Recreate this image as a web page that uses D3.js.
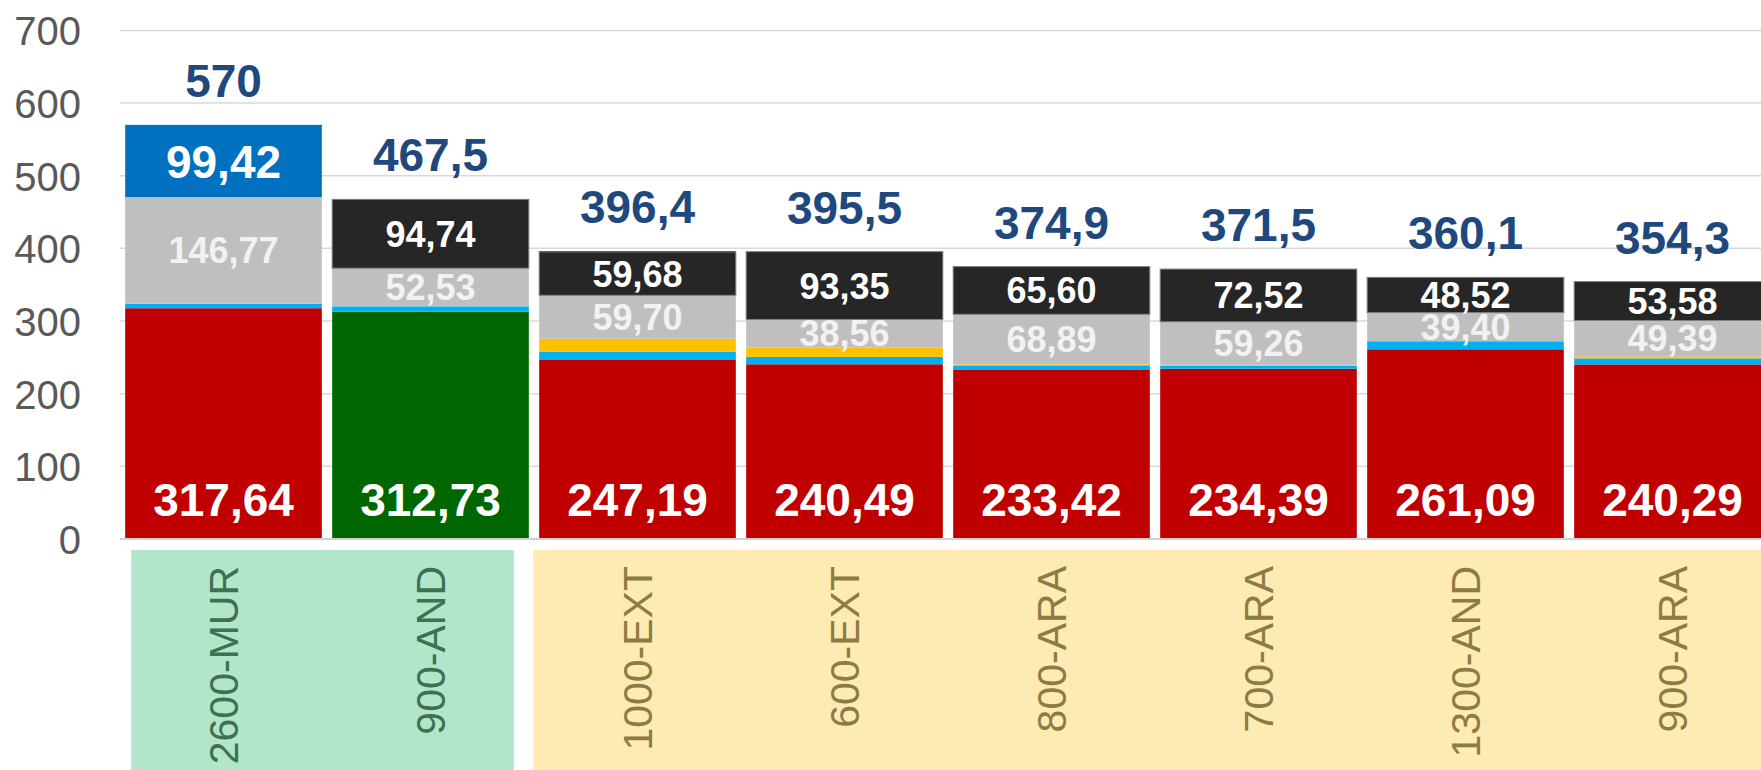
<!DOCTYPE html>
<html>
<head>
<meta charset="utf-8">
<script src="https://cdn.jsdelivr.net/npm/d3@7"></script>
<style>
  html, body { margin: 0; padding: 0; background: #fff; }
  svg { display: block; font-family: "Liberation Sans", Arial, sans-serif; }
</style>
</head>
<body>
<div id="chart"></div>
<script>
// categories (x axis)
const categories = ["2600-MUR", "900-AND", "1000-EXT", "600-EXT", "800-ARA", "700-ARA", "1300-AND", "900-ARA"];

// stacked series, bottom to top
const baseValues      = [317.64, 312.73, 247.19, 240.49, 233.42, 234.39, 261.09, 240.29];
const lightBlueValues = [6.17, 7.5, 10.3, 10.2, 5.5, 4.0, 11.09, 8.3];
const yellowValues    = [0, 0, 18.2, 12.9, 1.49, 1.33, 0, 2.74];
const grayValues      = [146.77, 52.53, 59.70, 38.56, 68.89, 59.26, 39.40, 49.39];
const blackValues     = [0, 94.74, 59.68, 93.35, 65.60, 72.52, 48.52, 53.58];
const darkBlueValues  = [99.42, 0, 1.33, 0, 0, 0, 0, 0];

// y axis ticks
const yTicks = [0, 100, 200, 300, 400, 500, 600, 700];

// groups shown as coloured strips behind the category labels
const groups = [
  { first: "2600-MUR", last: "900-AND" },
  { first: "1000-EXT", last: "900-ARA" }
];

const width = 1761, height = 770;
const fontFamily = '"Liberation Sans", Arial, sans-serif';

const seriesKeys = ["base", "lightBlue", "yellow", "gray", "black", "darkBlue"];
const seriesColors = {
  base: "#c00000", lightBlue: "#00b0f0", yellow: "#ffc000",
  gray: "#bfbfbf", black: "#262626", darkBlue: "#0070c0"
};
const highlightCategory = "900-AND"; // base drawn in green

const table = categories.map((c, i) => ({
  category: c,
  base: baseValues[i],
  lightBlue: lightBlueValues[i],
  yellow: yellowValues[i],
  gray: grayValues[i],
  black: blackValues[i],
  darkBlue: darkBlueValues[i]
}));

const stacked = d3.stack().keys(seriesKeys)(table);

const locale = d3.formatLocale({ decimal: ",", thousands: ".", grouping: [3], currency: ["", "€"] });
const fmt2 = locale.format(".2f");
const fmtTotal = locale.format(".1~f");

const svg = d3.select("#chart")
  .append("svg")
  .attr("width", width)
  .attr("height", height);

const x = d3.scaleBand()
  .domain(categories)
  .range([120, 120 + 207 * categories.length])
  .paddingInner(0.05)
  .paddingOuter(0.025);

const y = d3.scaleLinear()
  .domain([0, 700])
  .range([539, 30.4]);

// category strips
const stripColors = ["#b2e6ca", "#feeab3"];
const stripText = ["#3e7150", "#8d7b44"];
groups.forEach((g, i) => {
  const x0 = i === 0 ? x(g.first) + 6 : x(g.first) - 6;
  const x1 = i === 0 ? x(g.last) + x.bandwidth() - 15 : width;
  svg.append("rect")
    .attr("x", x0)
    .attr("y", 550)
    .attr("width", x1 - x0)
    .attr("height", height - 550)
    .attr("fill", stripColors[i]);
});

// gridlines
svg.append("g")
  .selectAll("line")
  .data(yTicks.filter(d => d > 0))
  .join("line")
  .attr("x1", 120)
  .attr("x2", width)
  .attr("y1", d => y(d))
  .attr("y2", d => y(d))
  .attr("stroke", "#d9d9d9")
  .attr("stroke-width", 1.5);

// y axis labels
const yAxis = d3.axisLeft(y).tickValues(yTicks).tickSize(0).tickPadding(0);
const yAxisG = svg.append("g")
  .attr("transform", "translate(81,0)")
  .call(yAxis);
yAxisG.select(".domain").remove();
yAxisG.selectAll("text")
  .attr("fill", "#595959")
  .style("font-family", fontFamily)
  .style("font-size", "40px")
  .attr("dy", "0.36em");

// bars
const layers = svg.append("g")
  .selectAll("g")
  .data(stacked)
  .join("g");

layers.selectAll("rect")
  .data(d => d.map(p => ({ key: d.key, p })))
  .join("rect")
  .attr("x", d => x(d.p.data.category))
  .attr("width", x.bandwidth())
  .attr("y", d => y(d.p[1]))
  .attr("height", d => Math.max(0, y(d.p[0]) - y(d.p[1])))
  .attr("fill", d => (d.key === "base" && d.p.data.category === highlightCategory) ? "#006600" : seriesColors[d.key])
  .attr("stroke", d => (d.key === "black" && d.p[1] > d.p[0]) ? "#808080" : "none")
  .attr("stroke-width", 1);

// x axis line
svg.append("line")
  .attr("x1", 120)
  .attr("x2", width)
  .attr("y1", y(0))
  .attr("y2", y(0))
  .attr("stroke", "#d0d0d0")
  .attr("stroke-width", 2);

// segment labels
const labelGroup = svg.append("g")
  .attr("font-family", fontFamily)
  .attr("font-weight", "bold")
  .attr("text-anchor", "middle")
  .attr("fill", "#ffffff");

stacked.forEach(layer => {
  layer.forEach(p => {
    const v = p.data[layer.key];
    const cx = x(p.data.category) + x.bandwidth() / 2;
    if (layer.key === "base") {
      labelGroup.append("text")
        .attr("x", cx)
        .attr("y", y(0) - 23)
        .style("font-size", "46px")
        .text(fmt2(v));
    } else if (layer.key === "gray" || layer.key === "black") {
      if (v <= 0) return;
      labelGroup.append("text")
        .attr("x", cx)
        .attr("y", (y(p[0]) + y(p[1])) / 2)
        .attr("dy", "0.36em")
        .attr("fill", layer.key === "gray" ? "#f2f2f2" : "#ffffff")
        .style("font-size", "36px")
        .text(fmt2(v));
    } else if (layer.key === "darkBlue" && v > 20) {
      labelGroup.append("text")
        .attr("x", cx)
        .attr("y", (y(p[0]) + y(p[1])) / 2)
        .attr("dy", "0.36em")
        .style("font-size", "46px")
        .text(fmt2(v));
    }
  });
});

// totals
const topLayer = stacked[stacked.length - 1];
svg.append("g")
  .selectAll("text")
  .data(topLayer)
  .join("text")
  .attr("x", d => x(d.data.category) + x.bandwidth() / 2)
  .attr("y", d => y(d[1]) - 28)
  .attr("text-anchor", "middle")
  .attr("fill", "#1f497d")
  .attr("font-weight", "bold")
  .style("font-family", fontFamily)
  .style("font-size", "46px")
  .text(d => fmtTotal(d[1]));

// category labels, rotated
svg.append("g")
  .selectAll("text")
  .data(categories)
  .join("text")
  .attr("transform", d => `translate(${x(d) + x.bandwidth() / 2},566) rotate(-90)`)
  .attr("text-anchor", "end")
  .attr("dy", "0.36em")
  .attr("fill", (d, i) => i < 2 ? stripText[0] : stripText[1])
  .style("font-family", fontFamily)
  .style("font-size", "41px")
  .text(d => d);
</script>
</body>
</html>
